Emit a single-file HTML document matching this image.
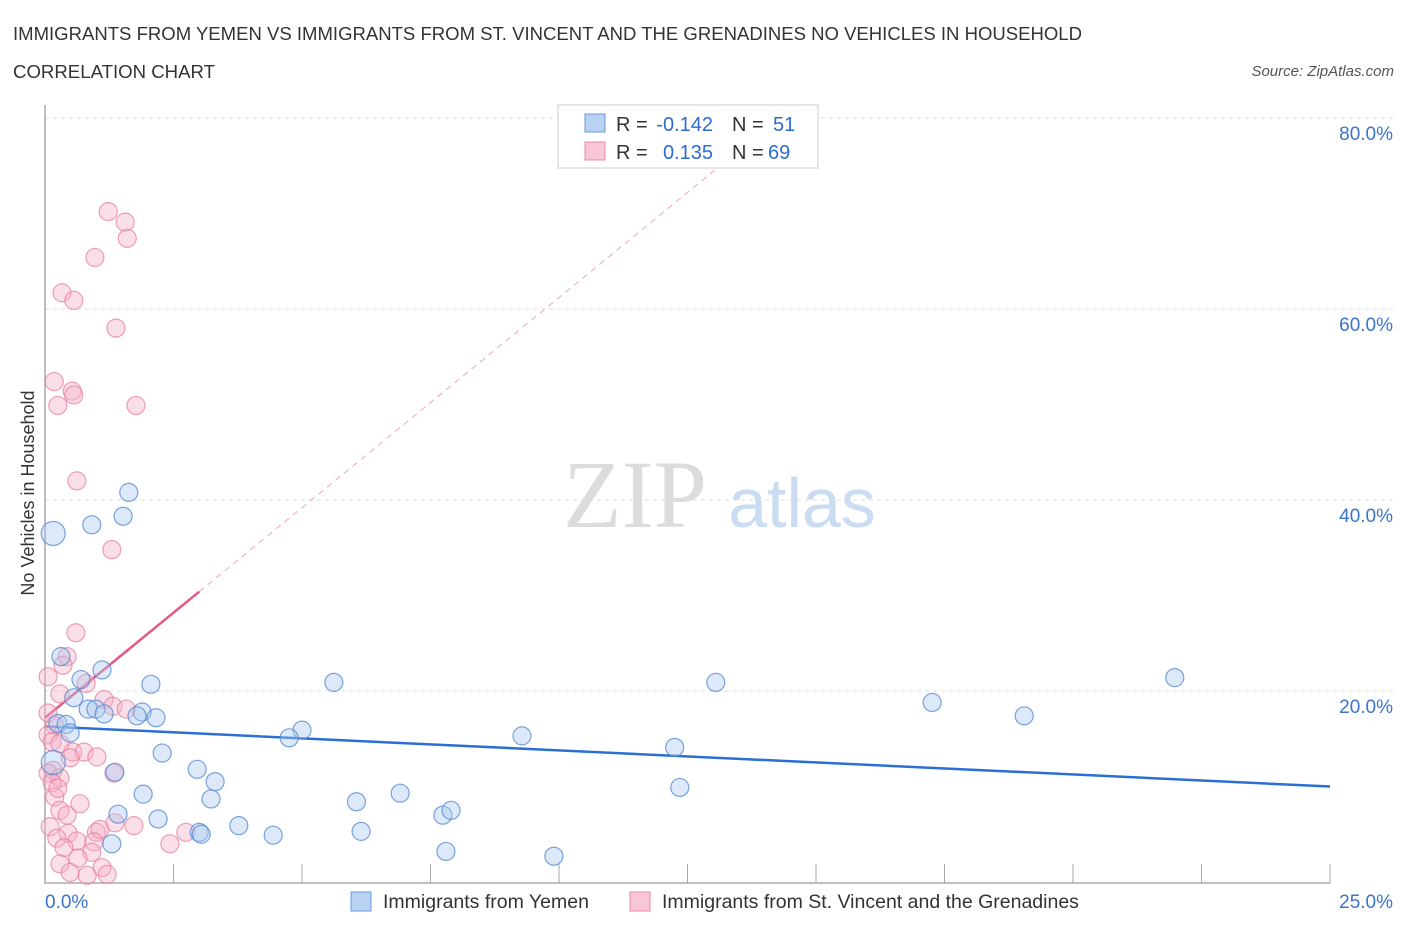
<!DOCTYPE html>
<html><head><meta charset="utf-8"><style>
body{margin:0;background:#fff;font-family:"Liberation Sans",sans-serif;}
svg{display:block}
</style></head><body>
<svg width="1406" height="930" viewBox="0 0 1406 930" xmlns="http://www.w3.org/2000/svg" font-family="Liberation Sans, sans-serif">
<text x="13" y="40" font-size="18.5" fill="#333" textLength="1069" lengthAdjust="spacingAndGlyphs">IMMIGRANTS FROM YEMEN VS IMMIGRANTS FROM ST. VINCENT AND THE GRENADINES NO VEHICLES IN HOUSEHOLD</text>
<text x="13" y="78" font-size="18.5" fill="#333" textLength="202" lengthAdjust="spacingAndGlyphs">CORRELATION CHART</text>
<text x="1394" y="76" font-size="15" fill="#555" font-style="italic" text-anchor="end">Source: ZipAtlas.com</text>
<g>
<text x="635" y="527" font-size="96" font-family="Liberation Serif, serif" fill="#dcdcdc" text-anchor="middle">ZIP</text>
<text x="802" y="527" font-size="70" fill="#cadcf2" text-anchor="middle">atlas</text>
</g>
<g id="grid"></g>
<g id="axes"></g>
<g id="trend"></g>
<g id="pts"></g>
<text transform="translate(34,493) rotate(-90)" font-size="18" fill="#333" text-anchor="middle">No Vehicles in Household</text>
<g>
<rect x="558" y="105" width="260" height="63" fill="#fff" stroke="#ccc"/>
<rect x="585" y="114" width="20" height="18" fill="#b9d2f3" stroke="#6a9bdc"/>
<text x="616" y="131" font-size="20" fill="#333">R =</text>
<text x="713" y="131" font-size="20" fill="#2d6cd1" text-anchor="end">-0.142</text>
<text x="732" y="131" font-size="20" fill="#333">N =</text>
<text x="773" y="131" font-size="20" fill="#2d6cd1">51</text>
<rect x="585" y="142" width="20" height="18" fill="#f8c6d4" stroke="#e88aa5"/>
<text x="616" y="159" font-size="20" fill="#333">R =</text>
<text x="713" y="159" font-size="20" fill="#2d6cd1" text-anchor="end">0.135</text>
<text x="732" y="159" font-size="20" fill="#333">N =</text>
<text x="768" y="159" font-size="20" fill="#2d6cd1">69</text>
</g>
<g>
<rect x="351" y="892" width="20" height="19" fill="#b9d2f3" stroke="#6a9bdc"/>
<text x="383" y="908" font-size="19.5" fill="#333">Immigrants from Yemen</text>
<rect x="630" y="892" width="20" height="19" fill="#f8c6d4" stroke="#e88aa5"/>
<text x="662" y="908" font-size="19.5" fill="#333">Immigrants from St. Vincent and the Grenadines</text>
</g>
</svg>
<script>
const yemenX=[0.16,0.91,1.63,1.52,0.31,1.11,0.70,2.06,0.56,0.84,0.99,1.15,1.89,1.79,2.16,0.25,0.41,0.49,2.28,1.36,2.96,3.31,1.91,3.23,1.42,2.20,3.00,3.04,3.77,1.30,4.44,5.0,4.75,5.62,6.06,6.15,6.91,7.74,7.90,7.80,9.28,9.90,12.25,12.35,13.05,17.26,19.05,21.98,0.16];
const yemenY=[36.5,37.4,40.8,38.3,23.6,22.2,21.2,20.7,19.3,18.1,18.1,17.6,17.8,17.4,17.2,16.6,16.5,15.6,13.5,11.5,11.8,10.5,9.2,8.7,7.1,6.6,5.2,5.0,5.9,4.0,4.9,15.9,15.1,20.9,8.4,5.3,9.3,7.0,7.5,3.2,15.3,2.7,14.1,9.9,20.9,18.8,17.4,21.4,12.5];
const svgX=[1.23,1.56,1.60,0.97,0.33,0.56,1.38,0.18,0.53,0.56,0.25,1.77,0.62,1.30,0.60,0.43,0.35,0.06,0.80,0.29,1.15,1.32,1.58,0.06,0.19,0.06,0.14,0.29,0.54,0.76,1.01,0.49,0.16,0.06,0.29,0.14,1.34,0.19,0.68,0.29,0.43,0.10,0.45,1.0,1.07,1.36,1.73,2.74,2.43,0.23,0.62,0.95,0.37,0.91,0.64,0.29,1.11,0.49,0.82,1.21,0.25];
const svgY=[70.2,69.1,67.4,65.4,61.7,60.9,58.0,52.4,51.4,51.0,49.9,49.9,42.0,34.8,26.1,23.6,22.7,21.5,20.8,19.7,19.1,18.4,18.1,17.7,16.4,15.4,14.7,14.5,13.6,13.6,13.1,13.0,11.7,11.4,10.9,10.4,11.4,8.9,8.2,7.5,7.0,5.8,5.1,5.2,5.5,6.2,5.9,5.2,4.0,4.6,4.3,4.2,3.6,3.1,2.5,1.9,1.5,1.0,0.7,0.8,9.8];
const xTicks=[0,2.5,5,7.5,10,12.5,15,17.5,20,22.5,25];
const yTicks=[20,40,60,80];
const yTickLabels=["20.0%","40.0%","60.0%","80.0%"];
const blueTrend=[16.3,10.0];
const pinkTrend=[17.2,30.4];
const X=v=>45+v*51.4, Y=v=>882-v*9.55;
const NS="http://www.w3.org/2000/svg";
function mk(t,a,p){const e=document.createElementNS(NS,t);for(const k in a)e.setAttribute(k,a[k]);p.appendChild(e);return e;}
const grid=document.getElementById('grid'),axes=document.getElementById('axes'),trend=document.getElementById('trend'),pts=document.getElementById('pts');
yTicks.forEach((v,i)=>{
 const l=mk('line',{x1:45,x2:1393,y1:Y(v),y2:Y(v),stroke:'#ddd','stroke-dasharray':'4,4'},grid);
 
 
 const t=mk('text',{x:1393,y:Y(v)+22,'font-size':19,fill:'#3b74cf','text-anchor':'end'},axes);
 t.textContent=yTickLabels[i];
 
 
});
const ax=mk('path',{d:`M45 105 V883 H1330`,stroke:'#aaa',fill:'none','stroke-width':1.5},axes);


xTicks.forEach(v=>{const tk=mk('line',{x1:X(v),x2:X(v),y1:864,y2:883,stroke:'#aaa'},axes);
 
 });
let t0=mk('text',{x:45,y:908,'font-size':19,fill:'#3b74cf'},axes);t0.textContent='0.0%';


let t1=mk('text',{x:1393,y:908,'font-size':19,fill:'#3b74cf','text-anchor':'end'},axes);t1.textContent='25.0%';


function dots(xs,ys,fill,stroke,name){xs.forEach((x,i)=>{const big=name=='yemen-point'&&(i==0||i==xs.length-1);const c=mk('circle',{cx:X(x),cy:Y(ys[i]),r:big?12:9,fill:fill,'fill-opacity':0.4,stroke:stroke,'stroke-opacity':0.75,'stroke-width':1.2},pts);
 
 });}
dots(svgX,svgY,'#f5b0c5','#e8809f','stvincent-point');
dots(yemenX,yemenY,'#a9c8ee','#4f86d4','yemen-point');
const slope=(pinkTrend[1]-pinkTrend[0])/3;
const xe=(80-pinkTrend[0])/slope;
const pd=mk('line',{x1:X(3),y1:Y(pinkTrend[1]),x2:X(xe),y2:Y(80),stroke:'#eda5b9','stroke-dasharray':'6,5','stroke-width':1},trend);


const ps=mk('line',{x1:X(0),y1:Y(pinkTrend[0]),x2:X(3),y2:Y(pinkTrend[1]),stroke:'#e55a83','stroke-width':2.5},trend);


const bl=mk('line',{x1:X(0),y1:Y(blueTrend[0]),x2:X(25),y2:Y(blueTrend[1]),stroke:'#2a6fd4','stroke-width':2.5},trend);


</script>
</body></html>
